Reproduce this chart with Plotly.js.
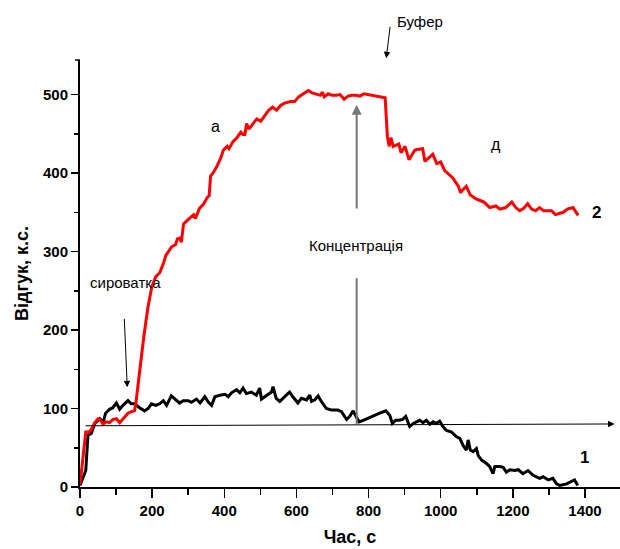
<!DOCTYPE html>
<html>
<head>
<meta charset="utf-8">
<script src="https://cdn.plot.ly/plotly-3.0.1.min.js"></script>
<style>html,body{margin:0;padding:0;background:#fff;}#chart{width:620px;height:549px;}</style>
</head>
<body>
<div id="chart"></div>
<script>
// Curve 2 (red)
const redX = [0,16,25,31,41,50,55,64,73,82,91,101,110,119,133,142,151,155,166,177,188,199,210,221,232,238,254,265,270,276,281,287,298,309,315,320,331,342,353,358,362,369,380,391,397,408,413,424,435,446,452,457,462,468,479,490,501,512,523,534,545,556,567,584,595,606,622,633,644,655,666,672,677,688,699,710,721,732,743,754,765,776,787,846,849,852,857,862,868,884,890,901,912,923,928,934,950,956,967,978,989,1000,1011,1022,1033,1049,1055,1060,1071,1082,1098,1109,1120,1136,1153,1164,1180,1197,1208,1219,1230,1241,1252,1263,1274,1285,1307,1318,1329,1340,1351,1367,1371,1378,1381];
const redY = [3,70,70,73,82,87,86,80,83,82,86,87,82,87,94,96,97,107,152,192,228,255,268,273,286,295,306,309,316,317,312,335,340,344,347,342,355,360,369,371,396,400,409,420,429,434,431,440,445,452,449,449,463,456,463,469,466,473,480,484,480,486,489,491,491,497,502,505,502,500,499,503,497,501,499,499,500,494,498,499,499,498,501,496,470,447,434,445,434,437,426,434,417,425,429,430,431,415,420,424,412,414,403,398,394,383,375,378,383,372,367,365,363,356,358,354,356,363,356,352,355,361,354,352,356,352,352,347,349,350,354,356,353,349,346];
// Curve 1 (black)
const blackX = [0,16,22,31,41,55,64,71,82,91,101,110,119,133,142,152,165,179,189,198,210,221,231,240,253,263,276,286,300,309,323,333,346,356,365,374,388,402,411,420,434,443,452,461,475,489,498,503,512,521,531,535,544,554,563,581,590,604,614,628,637,642,651,660,669,683,697,715,725,739,748,757,765,774,785,808,831,848,859,866,875,885,894,903,914,924,933,942,951,960,970,979,988,997,1006,1016,1030,1044,1053,1062,1071,1076,1082,1090,1099,1104,1114,1127,1136,1145,1150,1164,1173,1182,1192,1205,1215,1228,1242,1256,1274,1284,1298,1311,1321,1330,1349,1371,1380];
const blackY = [2,21,66,68,81,87,82,94,99,101,107,99,104,110,106,106,101,97,100,106,104,106,110,104,116,112,107,110,110,108,112,107,115,108,104,115,117,118,115,120,124,120,126,119,121,117,126,112,115,118,121,128,113,109,113,121,115,107,113,111,117,109,111,116,109,100,98,98,96,86,90,97,90,83,85,90,94,97,91,81,85,85,86,90,77,81,83,85,82,85,80,83,81,84,77,72,70,64,62,53,47,60,47,45,49,40,34,30,26,17,26,26,25,19,22,21,22,17,21,15,11,13,9,11,4,2,4,9,2];

const xTickVals = [0,200,400,600,800,1000,1200,1400];
const yTickVals = [0,100,200,300,400,500];

const FONT = 'Liberation Sans, Arial, sans-serif';

const traces = [
  {x: blackX, y: blackY, mode: 'lines', line: {color: '#000000', width: 3}, showlegend: false, hoverinfo: 'skip'},
  {x: redX, y: redY, mode: 'lines', line: {color: '#ff0000', width: 3}, showlegend: false, hoverinfo: 'skip'}
];

const txt = (x, y, text, size, bold) => ({
  x: x, y: y, xref: 'x', yref: 'y', text: text, showarrow: false,
  font: {family: FONT, size: size, color: '#000', weight: bold ? 'bold' : 'normal'}
});

const layout = {
  width: 620, height: 549,
  margin: {l: 80, r: 0, t: 60, b: 62},
  paper_bgcolor: '#fff', plot_bgcolor: '#fff',
  showlegend: false,
  xaxis: {
    range: [0, 1497], tickvals: xTickVals, ticktext: xTickVals.map(String),
    showgrid: false, zeroline: false, showline: true, linecolor: '#000', linewidth: 2,
    ticks: 'outside', ticklen: 9, tickwidth: 1.5, tickcolor: '#000',
    minor: {dtick: 100, tick0: 0, ticks: 'outside', ticklen: 6, tickwidth: 1.5, tickcolor: '#000', showgrid: false},
    tickfont: {family: FONT, size: 15, color: '#000', weight: 'bold'},
    title: {text: 'Час, с', font: {family: FONT, size: 18, color: '#000', weight: 'bold'}, standoff: 12}
  },
  yaxis: {
    range: [0, 544], tickvals: yTickVals, ticktext: yTickVals.map(String),
    showgrid: false, zeroline: false, showline: true, linecolor: '#000', linewidth: 2,
    ticks: 'outside', ticklen: 7, tickwidth: 1.5, tickcolor: '#000',
    minor: {dtick: 50, tick0: 0, ticks: 'outside', ticklen: 4, tickwidth: 1.5, tickcolor: '#000', showgrid: false},
    tickfont: {family: FONT, size: 15, color: '#000', weight: 'bold'},
    title: {text: 'Відгук, к.с.', font: {family: FONT, size: 18, color: '#000', weight: 'bold'}, standoff: 10}
  },
  shapes: [
    // lower part of the "Концентрація" marker line
    {type: 'line', xref: 'x', yref: 'y', x0: 767, x1: 767, y0: 80, y1: 266, line: {color: '#777', width: 2}},
    // cap at the top of the y axis
    {type: 'line', xref: 'paper', yref: 'paper', xsizemode: 'pixel', xanchor: 0, x0: -5, x1: 0, y0: 1, y1: 1, line: {color: '#000', width: 1.5}}
  ],
  annotations: [
    txt(375, 459, 'а', 16, false),
    txt(1152, 436, 'д', 16, false),
    txt(1433, 350, '2', 17, true),
    txt(1398, 37, '1', 17, true),
    txt(764, 308, 'Концентрація', 15, false),
    txt(126, 261, 'сироватка', 15, false),
    {x: 874, y: 1.09, xref: 'x', yref: 'paper', text: 'Буфер', showarrow: false, xanchor: 'left', yanchor: 'middle',
     font: {family: FONT, size: 15, color: '#000'}},
    // Буфер arrow
    {x: 849, y: 1.004, xref: 'x', yref: 'paper', text: '', showarrow: true, ax: 4, ay: -33,
     arrowcolor: '#000', arrowwidth: 1, arrowhead: 2, arrowsize: 1.3},
    // сироватка arrow
    {x: 131, y: 127, xref: 'x', yref: 'y', text: '', showarrow: true, ax: -3, ay: -70,
     arrowcolor: '#000', arrowwidth: 1, arrowhead: 2, arrowsize: 1.3},
    // Концентрація arrow (upper part)
    {x: 767, y: 487, xref: 'x', yref: 'y', text: '', showarrow: true, axref: 'x', ayref: 'y', ax: 767, ay: 353,
     arrowcolor: '#777', arrowwidth: 2, arrowhead: 2, arrowsize: 1},
    // horizontal arrow
    {x: 1482, y: 80.3, xref: 'x', yref: 'y', text: '', showarrow: true, axref: 'x', ayref: 'y', ax: 11, ay: 78,
     arrowcolor: '#000', arrowwidth: 1, arrowhead: 2, arrowsize: 1.3}
  ]
};

Plotly.newPlot('chart', traces, layout, {displayModeBar: false, staticPlot: true});
</script>
</body>
</html>
